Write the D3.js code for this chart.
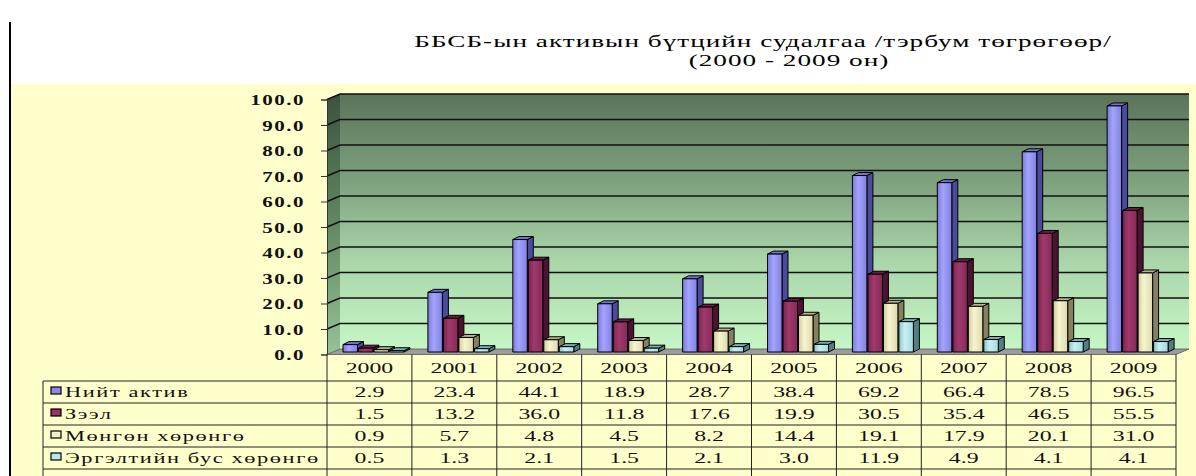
<!DOCTYPE html>
<html>
<head>
<meta charset="utf-8">
<script src="https://cdn.jsdelivr.net/npm/d3@7"></script>
<style>
body { margin: 0; background: #ffffff; }
svg { display: block; }
</style>
</head>
<body>
<script>
let width = 1196
let height = 476

let years = ["2000", "2001", "2002", "2003", "2004", "2005", "2006", "2007", "2008", "2009"]
let seriesNames = ["Нийт актив", "Зээл", "Мөнгөн хөрөнгө", "Эргэлтийн бус хөрөнгө"]
let niitAktiv = [2.9, 23.4, 44.1, 18.9, 28.7, 38.4, 69.2, 66.4, 78.5, 96.5]
let zeel = [1.5, 13.2, 36.0, 11.8, 17.6, 19.9, 30.5, 35.4, 46.5, 55.5]
let mongon = [0.9, 5.7, 4.8, 4.5, 8.2, 14.4, 19.1, 17.9, 20.1, 31.0]
let ergelt = [0.5, 1.3, 2.1, 1.5, 2.1, 3.0, 11.9, 4.9, 4.1, 4.1]
let yTicks = [0, 10, 20, 30, 40, 50, 60, 70, 80, 90, 100]

let titleLine1 = "ББСБ-ын активын бүтцийн судалгаа /тэрбум төгрөгөөр/"
let titleLine2 = "(2000 - 2009 он)"

let series = [niitAktiv, zeel, mongon, ergelt]

// colours: front dark / light / mid, side, top, legend key
let colors = [
	{ a: "#7a7ad8", b: "#a4a4ff", c: "#8080e0", side: "#4b4b9c", top: "#7474d4", key: "#8a8aee" },
	{ a: "#7c2450", b: "#a03a6c", c: "#842a58", side: "#4a1430", top: "#6c1c44", key: "#993366" },
	{ a: "#cfcaa0", b: "#f8f5cc", c: "#dcd8ae", side: "#85805e", top: "#b8b48c", key: "#f4f0c8" },
	{ a: "#8cc4c8", b: "#c8f0f4", c: "#a4d8dc", side: "#4f8084", top: "#7cb0b4", key: "#b8e8ec" }
]

let plotLeft = 327
let plotRight = 1176
let depthX = 13
let depthY = 5.5
let barDX = 6
let barDY = 3
let barShift = 2.5

let tableTop = 381
let rowH = 22
let labelLeft = 43

let serif = "'Liberation Serif', 'Times New Roman', serif"

let svg = d3.select("body")
	.append("svg")
	.attr("width", width)
	.attr("height", height)
	.style("background", "#ffffff")

let defs = svg.append("defs")

function gradient(id, stops, vertical) {
	let g = defs.append("linearGradient").attr("id", id)
	if (vertical) g.attr("x1", 0).attr("y1", 0).attr("x2", 0).attr("y2", 1)
	else g.attr("x1", 0).attr("y1", 0).attr("x2", 1).attr("y2", 0)
	stops.forEach(s => g.append("stop").attr("offset", s[0]).attr("stop-color", s[1]))
}

gradient("wall", [[0, "#5a745a"], [0.35, "#7fa27f"], [0.65, "#a9d5a9"], [1, "#c6f6c6"]], true)
gradient("side", [[0, "#3c523f"], [0.5, "#628862"], [1, "#96c296"]], true)
colors.forEach((c, i) => gradient("bar" + i, [[0, c.a], [0.4, c.b], [1, c.c]], false))

// yellow chart area and left rule
svg.append("rect")
	.attr("x", 11).attr("y", 84)
	.attr("width", width - 11).attr("height", height - 84)
	.attr("fill", "#ffffcc")

svg.append("line")
	.attr("x1", 10).attr("x2", 10)
	.attr("y1", 22).attr("y2", height)
	.attr("stroke", "#000").attr("stroke-width", 2)

// title
svg.append("text")
	.attr("transform", "translate(763,47) scale(1.7,1)")
	.attr("text-anchor", "middle")
	.style("font-family", serif)
	.style("font-size", "16px")
	.style("letter-spacing", "0.6px")
	.text(titleLine1)

svg.append("text")
	.attr("transform", "translate(789,66) scale(1.7,1)")
	.attr("text-anchor", "middle")
	.style("font-family", serif)
	.style("font-size", "16px")
	.style("letter-spacing", "0.6px")
	.text(titleLine2)

let y = d3.scaleLinear().domain([0, 100]).range([354.5, 99.5])
let x = d3.scaleBand().domain(years).range([plotLeft, plotRight])
let xs = d3.scaleBand().domain(d3.range(series.length)).range([16, 78])

// walls
svg.append("rect")
	.attr("x", plotLeft + depthX).attr("y", y(100) - depthY)
	.attr("width", plotRight - plotLeft).attr("height", y(0) - y(100))
	.attr("fill", "url(#wall)")

svg.append("polygon")
	.attr("points", [
		[plotLeft, y(0)], [plotLeft, y(100)],
		[plotLeft + depthX, y(100) - depthY], [plotLeft + depthX, y(0) - depthY]
	].join(" "))
	.attr("fill", "url(#side)")

// gridlines
svg.selectAll(".grid")
	.data(yTicks.slice(1))
	.enter()
	.append("polyline")
	.attr("points", d => [
		[plotLeft, y(d)], [plotLeft + depthX, y(d) - depthY], [plotRight + depthX, y(d) - depthY]
	].join(" "))
	.attr("fill", "none")
	.attr("stroke", "#111")
	.attr("stroke-width", 1.5)

// floor
svg.append("polygon")
	.attr("points", [
		[plotLeft, y(0)], [plotRight, y(0)],
		[plotRight + depthX, y(0) - depthY], [plotLeft + depthX, y(0) - depthY]
	].join(" "))
	.attr("fill", "#9c9c9c")
	.attr("stroke", "#555")
	.attr("stroke-width", 0.8)

// y axis
let yAxis = d3.axisLeft(y)
	.tickValues(yTicks)
	.tickSize(6)
	.tickFormat(d3.format(".1f"))

let gy = svg.append("g")
	.attr("transform", "translate(" + plotLeft + ",0)")
	.call(yAxis)

gy.select(".domain").attr("stroke", "#333")
gy.selectAll(".tick line").attr("stroke", "#333")
gy.selectAll(".tick text")
	.attr("x", null)
	.attr("transform", "translate(-22,0) scale(1.5,1)")
	.attr("fill", "#111")
	.style("font-family", serif)
	.style("font-size", "14px")
	.style("font-weight", "bold")
	.style("letter-spacing", "1px")
	.attr("dy", "0.36em")

// bars
years.forEach((yr, j) => {
	series.forEach((s, i) => {
		let v = s[j]
		let bx = x(yr) + xs(i)
		let w = xs.bandwidth() - 1
		let base = y(0) - barShift
		let top = y(v) - barShift
		let g = svg.append("g")
			.attr("stroke", "#000")
			.attr("stroke-width", 1)
			.attr("stroke-linejoin", "round")
		g.append("polygon")
			.attr("points", [[bx + w, top], [bx + w + barDX, top - barDY], [bx + w + barDX, base - barDY], [bx + w, base]].join(" "))
			.attr("fill", colors[i].side)
		g.append("polygon")
			.attr("points", [[bx, top], [bx + barDX, top - barDY], [bx + w + barDX, top - barDY], [bx + w, top]].join(" "))
			.attr("fill", colors[i].top)
		g.append("rect")
			.attr("x", bx).attr("y", top)
			.attr("width", w).attr("height", base - top)
			.attr("fill", "url(#bar" + i + ")")
	})
})

// data table
let table = svg.append("g")
	.attr("stroke", "#222")
	.attr("stroke-width", 1)

let rowLines = d3.range(series.length + 1).map(k => tableTop + k * rowH)
table.selectAll(".hline")
	.data(rowLines)
	.enter()
	.append("line")
	.attr("x1", labelLeft).attr("x2", plotRight)
	.attr("y1", d => d).attr("y2", d => d)

let colLines = years.map(d => x(d)).concat([plotRight])
table.selectAll(".vline")
	.data(colLines)
	.enter()
	.append("line")
	.attr("x1", d => d).attr("x2", d => d)
	.attr("y1", y(0)).attr("y2", height)

table.append("line")
	.attr("x1", labelLeft).attr("x2", labelLeft)
	.attr("y1", tableTop).attr("y2", height)

let numStyle = sel => sel
	.attr("text-anchor", "middle")
	.attr("fill", "#111")
	.style("font-family", serif)
	.style("font-size", "14px")

svg.selectAll(".year")
	.data(years)
	.enter()
	.append("text")
	.attr("transform", d => "translate(" + (x(d) + x.bandwidth() / 2) + "," + (tableTop - 8) + ") scale(1.7,1)")
	.call(numStyle)
	.text(d => d)

series.forEach((s, i) => {
	let rowY = tableTop + i * rowH + rowH / 2 + 5
	svg.selectAll(".val" + i)
		.data(s)
		.enter()
		.append("text")
		.attr("transform", (d, j) => "translate(" + (x(years[j]) + x.bandwidth() / 2) + "," + rowY + ") scale(1.7,1)")
		.call(numStyle)
		.text(d => d3.format(".1f")(d))

	svg.append("rect")
		.attr("x", 51).attr("y", rowY - 10)
		.attr("width", 10).attr("height", 7)
		.attr("fill", colors[i].key)
		.attr("stroke", "#000")
		.attr("stroke-width", 1.2)

	svg.append("text")
		.attr("transform", "translate(65," + rowY + ") scale(1.6,1)")
		.attr("fill", "#111")
		.style("font-family", serif)
		.style("font-size", "14px")
		.style("letter-spacing", "1px")
		.text(seriesNames[i])
})
</script>
</body>
</html>
